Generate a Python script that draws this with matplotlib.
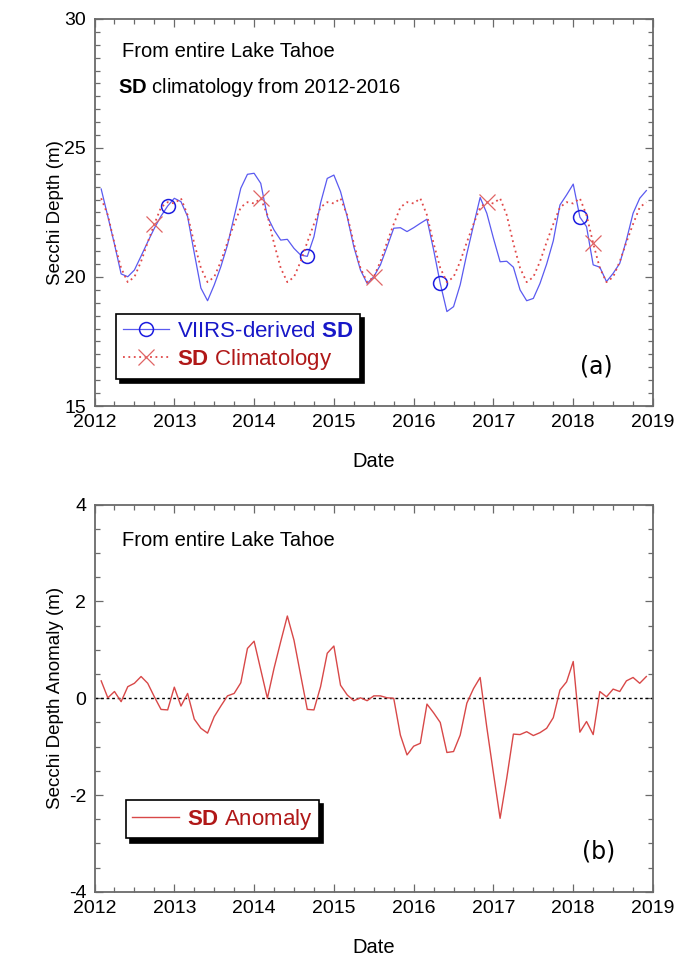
import numpy as np
import matplotlib.pyplot as plt
from matplotlib.ticker import MultipleLocator, FormatStrFormatter
from matplotlib.lines import Line2D

plt.rcParams['font.family'] = ['Liberation Sans', 'DejaVu Sans']
plt.rcParams['mathtext.fontset'] = 'custom'
plt.rcParams['mathtext.rm'] = 'Liberation Sans'
plt.rcParams['mathtext.bf'] = 'Liberation Sans:bold'
plt.rcParams['axes.unicode_minus'] = False

# monthly samples, Feb 2012 .. Dec 2018 (decimal years)
months = np.arange(1, 84)
t = 2012 + months / 12.0

# VIIRS-derived Secchi depth (m)
viirs_sd = [23.41, 22.35, 21.27, 20.12, 20.01, 20.27, 20.81, 21.36, 21.89, 22.36, 22.75,
            23.05, 22.92, 22.34, 20.93, 19.57, 19.08, 19.69, 20.40, 21.24, 22.34, 23.44, 23.98,
            24.02, 23.63, 22.34, 21.82, 21.43, 21.46, 21.11, 20.85, 20.80, 21.56, 22.87, 23.82,
            23.95, 23.31, 22.34, 21.17, 20.27, 19.75, 20.01, 20.47, 21.17, 21.89, 21.91, 21.76,
            21.91, 22.08, 22.24, 21.05, 19.75, 18.66, 18.85, 19.70, 20.90, 22.00, 23.08, 22.47,
            21.50, 20.59, 20.61, 20.38, 19.50, 19.08, 19.17, 19.75, 20.50, 21.40, 22.79, 23.18,
            23.60, 22.32, 21.95, 20.47, 20.38, 19.82, 20.14, 20.53, 21.43, 22.47, 23.05, 23.35]

# 2012-2016 climatology, repeated each year
clim_sd = [23.05, 22.40, 21.30, 20.35, 19.80, 20.00, 20.60, 21.35, 22.05, 22.70, 22.90,
           22.85, 23.05, 22.40, 21.30, 20.35, 19.80, 20.00, 20.60, 21.35, 22.05, 22.70, 22.90,
           22.85, 23.05, 22.40, 21.30, 20.35, 19.80, 20.00, 20.60, 21.35, 22.05, 22.70, 22.90,
           22.85, 23.05, 22.40, 21.30, 20.35, 19.80, 20.00, 20.60, 21.35, 22.05, 22.70, 22.90,
           22.85, 23.05, 22.40, 21.30, 20.35, 19.80, 20.00, 20.60, 21.35, 22.05, 22.70, 22.90,
           22.85, 23.05, 22.40, 21.30, 20.35, 19.80, 20.00, 20.60, 21.35, 22.05, 22.70, 22.90,
           22.85, 23.05, 22.40, 21.30, 20.35, 19.80, 20.00, 20.60, 21.35, 22.05, 22.70, 22.90]

# SD anomaly (m)
anomaly = [0.36, 0.01, 0.14, -0.07, 0.24, 0.31, 0.45, 0.31, 0.03, -0.23, -0.24,
           0.23, -0.16, 0.10, -0.43, -0.62, -0.72, -0.38, -0.16, 0.05, 0.10, 0.32, 1.03,
           1.18, 0.59, 0.00, 0.62, 1.17, 1.70, 1.20, 0.48, -0.23, -0.24, 0.24, 0.93,
           1.08, 0.27, 0.07, -0.05, 0.01, -0.05, 0.05, 0.05, 0.01, 0.00, -0.76, -1.17,
           -0.99, -0.93, -0.12, -0.30, -0.50, -1.12, -1.10, -0.76, -0.10, 0.20, 0.43, -0.60,
           -1.55, -2.48, -1.65, -0.74, -0.75, -0.69, -0.77, -0.71, -0.62, -0.40, 0.17, 0.34,
           0.76, -0.70, -0.48, -0.75, 0.14, 0.03, 0.19, 0.14, 0.36, 0.43, 0.31, 0.45]

circle_idx = [10, 31, 51, 72]
cross_idx = [8, 24, 41, 58, 74]

blue = '#5a5af0'
blue_mk = '#1c1ce0'
red = '#e04848'
red_mk = '#e06464'
anom_red = '#d84848'
frame_c = '#6a6a6a'


def style_axes(ax, ymajor, yminor):
    ax.set_xlim(2012, 2019)
    ax.xaxis.set_major_locator(MultipleLocator(1))
    ax.xaxis.set_minor_locator(MultipleLocator(0.25))
    ax.xaxis.set_major_formatter(FormatStrFormatter('%d'))
    ax.yaxis.set_major_locator(MultipleLocator(ymajor))
    ax.yaxis.set_minor_locator(MultipleLocator(yminor))
    ax.tick_params(which='both', direction='in', top=True, right=True,
                   color=frame_c, width=0.9, labelsize=14, pad=6)
    ax.tick_params(which='major', length=6)
    ax.tick_params(which='minor', length=3.5)
    for s in ax.spines.values():
        s.set_color(frame_c)
        s.set_linewidth(1.3)
    ax.set_xlabel('Date', fontsize=14.5, labelpad=15)


fig = plt.figure(figsize=(6.9, 9.58), dpi=100)
ax1 = fig.add_axes([0.137, 0.5762, 0.8094, 0.404])
ax2 = fig.add_axes([0.137, 0.0690, 0.8094, 0.4042])

# (a) Secchi depth and climatology
ax1.plot(t, viirs_sd, color=blue, lw=0.9, marker='o', markevery=circle_idx,
         ms=10, mfc='none', mec=blue_mk, mew=1.1)
ax1.plot(t, clim_sd, color=red, lw=1.3, ls=(0, (1.0, 2.0)), marker='x',
         markevery=cross_idx, ms=11, mec=red_mk, mew=0.9)
ax1.set_ylim(15, 30)
style_axes(ax1, 5, 0.5)
ax1.set_ylabel('Secchi Depth (m)', fontsize=13.5)
ax1.yaxis.set_label_coords(-0.055, 0.5)

ax1.text(0.0487, 0.9026, 'From entire Lake Tahoe', transform=ax1.transAxes,
         fontsize=14.5, va='baseline')
ax1.text(0.0415, 0.8075, r'$\mathbf{SD}$ climatology from 2012-2016',
         transform=ax1.transAxes, fontsize=14.5, va='baseline')
ax1.text(0.869, 0.1016, '(a)', transform=ax1.transAxes, fontsize=17,
         va='center', family='DejaVu Sans')

h1 = Line2D([], [], color=blue, lw=0.9, marker='o', ms=10, mfc='none',
            mec=blue_mk, mew=1.1)
h2 = Line2D([], [], color=red, lw=1.3, ls=(0, (1.0, 2.0)), marker='x',
            ms=11, mec=red_mk, mew=0.9)
leg1 = ax1.legend([h1, h2], [r'VIIRS-derived $\mathbf{SD}$', r'$\mathbf{SD}$ Climatology'],
                  loc='upper left', bbox_to_anchor=(0.0385, 0.2377), fontsize=16,
                  fancybox=False, framealpha=1, edgecolor='k',
                  shadow={'ox': 3, 'oy': -3, 'color': 'k', 'alpha': 1},
                  labelcolor=['#1818c8', '#b01818'], handlelength=2.1,
                  handletextpad=0.35, borderpad=0.3, labelspacing=0.25,
                  borderaxespad=0)
leg1.get_frame().set_linewidth(1.2)

# (b) anomaly
ax2.axhline(0, color='k', lw=1, ls=(0, (2, 2)))
ax2.plot(t, anomaly, color=anom_red, lw=1.0)
ax2.set_ylim(-4, 4)
style_axes(ax2, 2, 0.5)
ax2.set_ylabel('Secchi Depth Anomaly (m)', fontsize=13.5)
ax2.yaxis.set_label_coords(-0.055, 0.5)

ax2.text(0.0498, 0.8933, 'From entire Lake Tahoe', transform=ax2.transAxes,
         fontsize=14.5, va='baseline')
ax2.text(0.8725, 0.1038, '(b)', transform=ax2.transAxes, fontsize=17,
         va='center', family='DejaVu Sans')

h3 = Line2D([], [], color=anom_red, lw=1.0)
leg2 = ax2.legend([h3], [r'$\mathbf{SD}$ Anomaly'], loc='upper left',
                  bbox_to_anchor=(0.0557, 0.2373), fontsize=16,
                  fancybox=False, framealpha=1, edgecolor='k',
                  shadow={'ox': 3, 'oy': -3, 'color': 'k', 'alpha': 1},
                  labelcolor=['#b01818'], handlelength=2.1,
                  handletextpad=0.35, borderpad=0.3, borderaxespad=0)
leg2.get_frame().set_linewidth(1.2)

fig.savefig('out.png', dpi=100)
